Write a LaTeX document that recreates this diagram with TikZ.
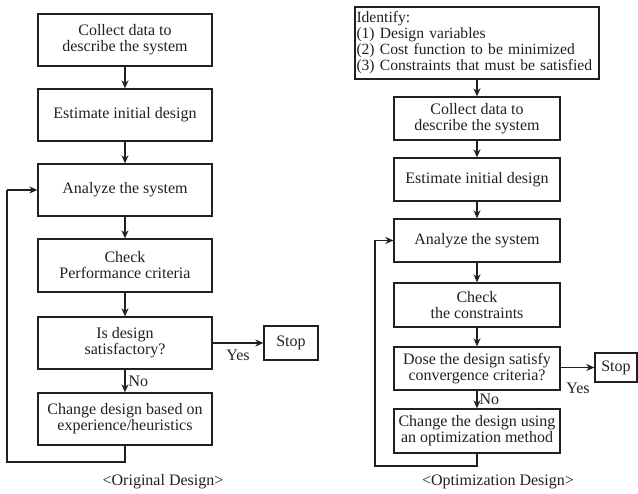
\documentclass[tikz,border=0pt]{standalone}
\usepackage{fontspec}
\setmainfont{Liberation Serif}
\usetikzlibrary{arrows.meta}
\definecolor{ink}{RGB}{35,31,32}
\begin{document}
\begin{tikzpicture}[x=1pt,y=-1pt,
  every node/.style={font=\fontsize{16}{16}\selectfont, text=ink},
  box/.style={draw=ink, line width=1.3pt, align=center, inner sep=2pt},
  lbox/.style={box, minimum width=174pt, minimum height=52pt},
  rbox/.style={box, minimum width=166pt, minimum height=43pt},
  conn/.style={draw=ink, line width=1.3pt, -{Stealth[length=8pt,width=7pt]}},
  loopline/.style={draw=ink, line width=1.3pt}]
\useasboundingbox (0,0) rectangle (638,494);
% Left chart
\node[lbox] (l1) at (125,40) {Collect data to\\describe the system};
\node[lbox] (l2) at (125,115) {Estimate initial design};
\node[lbox] (l3) at (125,190) {Analyze the system};
\node[lbox, minimum height=53pt] (l4) at (125,265.5) {Check\\Performance criteria};
\node[lbox] (l5) at (125,343) {Is design\\satisfactory?};
\node[lbox] (l6) at (125,419) {Change design based on\\experience/heuristics};
\node[box, minimum width=54pt, minimum height=34pt] (lstop) at (291,343) {Stop};
\draw[conn] (l1) -- (l2);
\draw[conn] (l2) -- (l3);
\draw[conn] (l3) -- (l4);
\draw[conn] (l4) -- (l5);
\draw[conn] (l5) -- node[right, inner sep=3pt] (lno) {No} (l6);
\draw[conn] (l5) -- node[below, yshift=-3pt] (lyes) {Yes} (lstop);
\coordinate (lc1) at (125,462);
\coordinate (lc2) at (7,462);
\coordinate (lc3) at (7,190);
\draw[loopline] (l6.south) -- (lc1) -- (lc2) -- (lc3);
\draw[conn] (lc3) -- (l3.west);
\node (lcap) at (163,482) {<Original Design>};
% Right chart
\node[box, minimum width=244pt, minimum height=72pt, text width=241pt, align=left, inner xsep=1.5pt, font=\fontsize{15.6}{16}\selectfont] (r0) at (477,43) {Identify:\\(1) Design variables\\(2) Cost function to be minimized\\(3) Constraints that must be satisfied};
\node[rbox] (r1) at (477,118.5) {Collect data to\\describe the system};
\node[rbox] (r2) at (477,179.5) {Estimate initial design};
\node[rbox] (r3) at (477,240.5) {Analyze the system};
\node[rbox, minimum height=44pt] (r4) at (477,305) {Check\\the constraints};
\node[rbox] (r5) at (477,368.5) {Dose the design satisfy\\convergence criteria?};
\node[rbox, minimum height=44pt] (r6) at (477,431) {Change the design using\\an optimization method};
\node[box, minimum width=42pt, minimum height=29pt] (rstop) at (616,367.5) {Stop};
\draw[conn] (r0) -- (r1);
\draw[conn] (r1) -- (r2);
\draw[conn] (r2) -- (r3);
\draw[conn] (r3) -- (r4);
\draw[conn] (r4) -- (r5);
\draw[conn] (r5) -- node[right, inner sep=2pt] (rno) {No} (r6);
\draw[conn] (r5.east |- rstop) -- (rstop);
\node (ryes) at (578,388) {Yes};
\coordinate (rc1) at (477,466);
\coordinate (rc2) at (375,466);
\coordinate (rc3) at (375,240.5);
\draw[loopline] (r6.south) -- (rc1) -- (rc2) -- (rc3);
\draw[conn] (rc3) -- (r3.west);
\node (rcap) at (498,482) {<Optimization Design>};
\end{tikzpicture}
\end{document}
